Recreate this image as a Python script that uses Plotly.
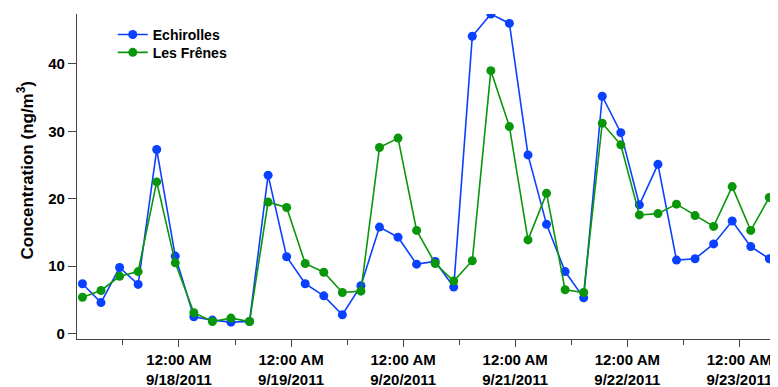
import pandas as pd
import plotly.graph_objects as go

# sample times: ~4-hourly samples starting 9/17/2011
start_time = "2011-09-17 03:20"
n_points = 39
step_minutes = 238.5

echirolles = [7.4, 4.6, 9.8, 7.3, 27.3, 11.5, 2.5, 2.0, 1.7, 1.8,
              23.5, 11.4, 7.4, 5.6, 2.8, 7.1, 15.8, 14.3, 10.3, 10.7,
              6.9, 44.1, 47.4, 46.0, 26.5, 16.2, 9.2, 5.3, 35.2, 29.8,
              19.1, 25.1, 10.9, 11.1, 13.3, 16.7, 12.9, 11.1, 11.2]
les_frenes = [5.4, 6.4, 8.5, 9.2, 22.5, 10.5, 3.1, 1.8, 2.3, 1.8,
              19.5, 18.7, 10.4, 9.1, 6.1, 6.3, 27.6, 29.0, 15.3, 10.4,
              7.8, 10.8, 39.0, 30.7, 13.9, 20.8, 6.5, 6.1, 31.2, 28.0,
              17.6, 17.8, 19.2, 17.5, 15.9, 21.8, 15.3, 20.2, 14.4]

tick_vals = ["2011-09-18 00:00", "2011-09-19 00:00", "2011-09-20 00:00",
             "2011-09-21 00:00", "2011-09-22 00:00", "2011-09-23 00:00"]
tick_text = ["12:00 AM<br>9/18/2011", "12:00 AM<br>9/19/2011",
             "12:00 AM<br>9/20/2011", "12:00 AM<br>9/21/2011",
             "12:00 AM<br>9/22/2011", "12:00 AM<br>9/23/2011"]

y_ticks = [0, 10, 20, 30, 40]

times = pd.Timestamp(start_time) + pd.to_timedelta([i * step_minutes for i in range(n_points)], unit="min")

FONT = "Liberation Sans, Arial, sans-serif"
AXIS_COLOR = "#444444"
TXT = dict(family=FONT, weight="bold", color="black")

fig = go.Figure()
fig.add_trace(go.Scatter(x=times, y=echirolles, name="Echirolles", mode="lines+markers",
                         line=dict(color="#0A40FF", width=1.6),
                         marker=dict(color="#0A40FF", size=9), legend="legend"))
fig.add_trace(go.Scatter(x=times, y=les_frenes, name="Les Frênes", mode="lines+markers",
                         line=dict(color="#0A960A", width=1.6),
                         marker=dict(color="#0A960A", size=9), legend="legend2"))

legend_common = dict(xanchor="left", yanchor="top", bgcolor="rgba(0,0,0,0)",
                     borderwidth=0, font=dict(size=14, **TXT))

# the page body has an 8px default margin, so the figure is sized/offset to compensate
fig.update_layout(
    width=770, height=379,
    margin=dict(l=69, r=0, t=6, b=48, autoexpand=False),
    paper_bgcolor="white", plot_bgcolor="white",
    font=dict(family=FONT, color="black"),
    showlegend=True,
    legend=dict(x=0.051, y=0.985, **legend_common),
    legend2=dict(x=0.051, y=0.930, **legend_common),
    xaxis=dict(type="date", range=["2011-09-17 02:10", "2011-09-23 08:16"],
               tickvals=tick_vals, ticktext=tick_text, automargin=False,
               ticks="outside", ticklen=7, tickcolor=AXIS_COLOR, tickwidth=1.2,
               ticklabelstandoff=0,
               minor=dict(tick0="2011-09-17 12:00", dtick=43200000, ticks="outside",
                          ticklen=5, tickcolor=AXIS_COLOR, tickwidth=1.2, showgrid=False),
               showline=True, linecolor=AXIS_COLOR, linewidth=1.2,
               showgrid=False, zeroline=False,
               tickfont=dict(size=15, **TXT)),
    yaxis=dict(range=[-0.8, 47.4], tickvals=y_ticks, automargin=False,
               ticks="outside", ticklen=8, tickcolor=AXIS_COLOR, tickwidth=1.2,
               showline=True, linecolor=AXIS_COLOR, linewidth=1.2,
               showgrid=False, zeroline=False,
               tickfont=dict(size=15, **TXT)),
    annotations=[dict(text="Concentration (ng/m<sup>3</sup>)", textangle=-90,
                      xref="paper", yref="paper", x=-0.0735, y=0.52,
                      xanchor="center", yanchor="middle", showarrow=False,
                      font=dict(size=17, **TXT))],
)

fig.write_html("out.html")
